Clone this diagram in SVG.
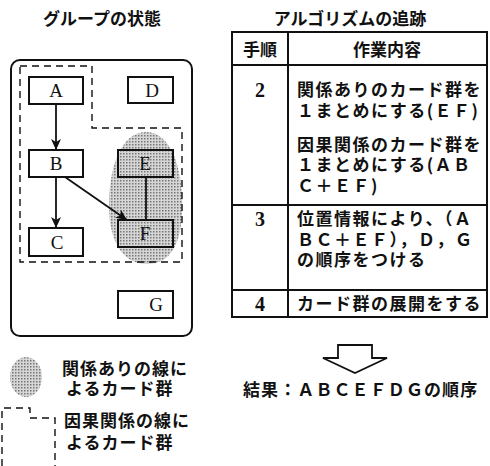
<svg xmlns="http://www.w3.org/2000/svg" width="490" height="466" viewBox="0 0 490 466">
<defs>
<style>
.jp{font-family:"Noto Sans CJK JP","Noto Sans",sans-serif;font-weight:bold;fill:#111}
.tb{font-size:17px;letter-spacing:1.5px}
.ser{font-family:"Liberation Serif",serif;fill:#111}
.box{fill:none;stroke:#111;stroke-width:2}
.ln{fill:none;stroke:#111;stroke-width:1.8}
.dash{fill:none;stroke:#111;stroke-width:1.4;stroke-dasharray:7 5}
.blob{fill:url(#dots)}
</style>
<pattern id="dots" width="3" height="3" patternUnits="userSpaceOnUse">
<rect width="3" height="3" fill="#d6d6d6"/>
<rect width="1.5" height="1.5" fill="#777"/>
</pattern>
<marker id="ah" markerWidth="12" markerHeight="10" refX="11" refY="5" orient="auto" markerUnits="userSpaceOnUse">
<path d="M0,0 L11,5 L0,10 L3,5 z" fill="#111"/>
</marker>
</defs>
<rect width="490" height="466" fill="#fff"/>

<text class="jp" x="102" y="25" font-size="17" text-anchor="middle">グループの状態</text>
<text class="jp" x="350" y="25" font-size="17" text-anchor="middle">アルゴリズムの追跡</text>

<g id="frame">
<rect x="11" y="60" width="181" height="276" rx="9" class="box"/>
</g>
<g id="blob-EF">
<path class="blob" d="M146,132 C168,132 180,160 182,195 C184,235 175,262 150,264 C122,266 110,240 109,210 C108,170 120,132 146,132 Z"/>
</g>
<g id="group-dashed">
<path class="dash" d="M20,66 L92,66 L92,128 L182,128 L182,262 L20,262 Z"/>
</g>
<g id="node-A"><rect x="29" y="77" width="54" height="27" class="box"/><text class="ser" x="56" y="97" font-size="19" text-anchor="middle">A</text></g>
<g id="node-D"><rect x="128" y="77" width="45" height="26" class="box"/><text class="ser" x="152" y="97" font-size="19" text-anchor="middle">D</text></g>
<g id="node-B"><rect x="29" y="150" width="54" height="27" class="box"/><text class="ser" x="56" y="170" font-size="19" text-anchor="middle">B</text></g>
<g id="node-E"><rect x="118" y="150" width="55" height="27" class="box"/><text class="ser" x="145" y="170" font-size="19" text-anchor="middle">E</text></g>
<g id="node-C"><rect x="29" y="228" width="54" height="28" class="box"/><text class="ser" x="57" y="249" font-size="19" text-anchor="middle">C</text></g>
<g id="node-F"><rect x="118" y="220" width="55" height="27" class="box"/><text class="ser" x="145" y="240" font-size="19" text-anchor="middle">F</text></g>
<g id="node-G"><rect x="118" y="291" width="55" height="27" class="box"/><text class="ser" x="156" y="311" font-size="19" text-anchor="middle">G</text></g>

<g id="connectors">
<line class="ln" x1="56" y1="104" x2="56" y2="150" marker-end="url(#ah)"/>
<line class="ln" x1="56" y1="177" x2="56" y2="228" marker-end="url(#ah)"/>
<line class="ln" x1="65" y1="177" x2="127" y2="220" marker-end="url(#ah)"/>
<line class="ln" x1="146" y1="177" x2="146" y2="220"/>
</g>

<g id="legend">
<ellipse cx="26" cy="377" rx="16" ry="20" class="blob"/>
<text class="jp" font-size="17" letter-spacing="1"><tspan x="62" y="375">関係ありの線に</tspan><tspan x="66" y="395">よるカード群</tspan></text>
<path class="dash" d="M2,466 L2,408 L30,408 L30,418 L55,418 L55,466"/>
<text class="jp" font-size="17" letter-spacing="1"><tspan x="64" y="427">因果関係の線に</tspan><tspan x="66" y="449">よるカード群</tspan></text>
</g>

<g id="table">
<rect x="232" y="32" width="255" height="285" class="box"/>
<line class="box" x1="288" y1="32" x2="288" y2="317"/>
<line class="box" x1="232" y1="65" x2="487" y2="65"/>
<line class="box" x1="232" y1="205" x2="487" y2="205"/>
<line class="box" x1="232" y1="290" x2="487" y2="290"/>
<text class="jp" x="260" y="56" font-size="17" text-anchor="middle">手順</text>
<text class="jp" x="387" y="56" font-size="17" text-anchor="middle">作業内容</text>
<text class="ser" x="260" y="97" font-size="20" font-weight="bold" text-anchor="middle">2</text>
<text class="jp tb"><tspan x="297" y="96">関係ありのカード群を</tspan><tspan x="297" y="117">１まとめにする(ＥＦ)</tspan></text>
<text class="jp tb"><tspan x="297" y="151">因果関係のカード群を</tspan><tspan x="297" y="171">１まとめにする(ＡＢ</tspan><tspan x="297" y="192">Ｃ＋ＥＦ)</tspan></text>
<text class="ser" x="260" y="226" font-size="20" font-weight="bold" text-anchor="middle">3</text>
<text class="jp tb"><tspan x="297" y="225">位置情報により、（Ａ</tspan><tspan x="297" y="246">ＢＣ＋ＥＦ），Ｄ，Ｇ</tspan><tspan x="297" y="266">の順序をつける</tspan></text>
<text class="ser" x="260" y="311" font-size="20" font-weight="bold" text-anchor="middle">4</text>
<text class="jp tb" x="297" y="310">カード群の展開をする</text>
</g>

<g id="result-arrow">
<path d="M338,345 L372,345 L372,358 L387,358 L355,373 L323,358 L338,358 Z" fill="#fff" stroke="#111" stroke-width="1.8"/>
</g>
<text class="jp" x="243" y="396" font-size="17" letter-spacing="1.1">結果：ＡＢＣＥＦＤＧの順序</text>
</svg>
